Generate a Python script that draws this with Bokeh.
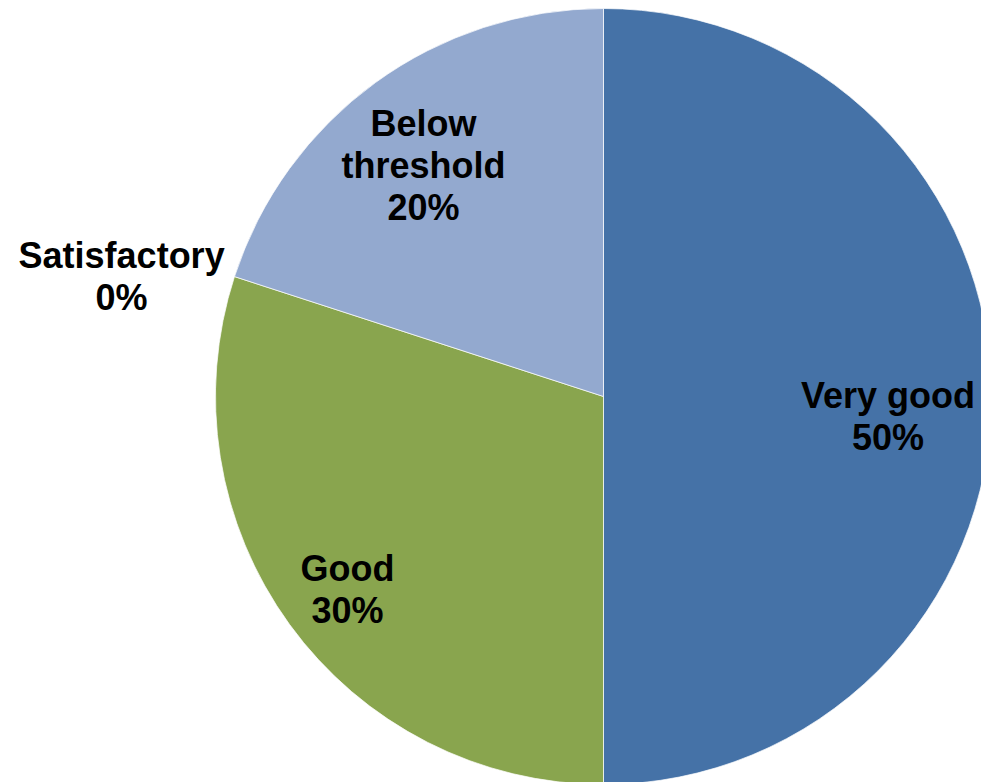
import math
from bokeh.plotting import figure
from bokeh.models import Range1d, ColumnDataSource
from bokeh.core.properties import value
from bokeh.embed import file_html
from bokeh.resources import INLINE

# ---- data ----
categories = ["Very good", "Good", "Satisfactory", "Below threshold"]
values = [50, 30, 0, 20]
colors = ["#4572A7", "#89A54E", "#AA4643", "#93A9CF"]

# ---- style ----
label_r = [0.735, 0.826, 1.28, 0.755]     # label distance (fraction of radius)
label_dang = [-4.1, 1.0, 4.0, 1.9]        # label angle shift (degrees)
W, H = 981, 782
cx, cy, R = 603, 782 - 396, 388           # pie centre / radius in screen units

total = float(sum(values))
starts, ends, mids = [], [], []
cum = 0.0
for v in values:
    a0 = math.pi / 2 - cum / total * 2 * math.pi
    cum += v
    a1 = math.pi / 2 - cum / total * 2 * math.pi
    starts.append(a0)
    ends.append(a1)
    mids.append((a0 + a1) / 2)

keep = [i for i, v in enumerate(values) if v > 0]
wsrc = ColumnDataSource(dict(
    start=[starts[i] for i in keep],
    end=[ends[i] for i in keep],
    color=[colors[i] for i in keep],
))

lx, ly, lt = [], [], []
for i, c in enumerate(categories):
    ang = mids[i] + math.radians(label_dang[i])
    lx.append(cx + R * label_r[i] * math.cos(ang))
    ly.append(cy + R * label_r[i] * math.sin(ang))
    pct = f"{round(values[i] / total * 100)}%"
    lt.append(f"{c}\n{pct}" if c != "Below threshold" else f"Below\nthreshold\n{pct}")
lsrc = ColumnDataSource(dict(x=lx, y=ly, text=lt))

p = figure(width=W, height=H, output_backend="svg", toolbar_location=None,
           x_range=Range1d(0, W), y_range=Range1d(0, H), min_border=0)
p.axis.visible = False
p.grid.visible = False
p.outline_line_color = None
p.background_fill_color = "white"
p.border_fill_color = "white"

p.wedge(x=cx, y=cy, radius=R, start_angle="start", end_angle="end",
        direction="clock", fill_color="color", line_color="white",
        line_width=1, line_alpha=0.7, source=wsrc)

p.text(x="x", y="y", text="text", source=lsrc, text_align="center",
       text_baseline="middle", text_font=value("Liberation Sans"),
       text_font_style="bold", text_font_size="36px", text_color="black",
       text_line_height=1.03)

open("out.html", "w").write(file_html(p, INLINE))
